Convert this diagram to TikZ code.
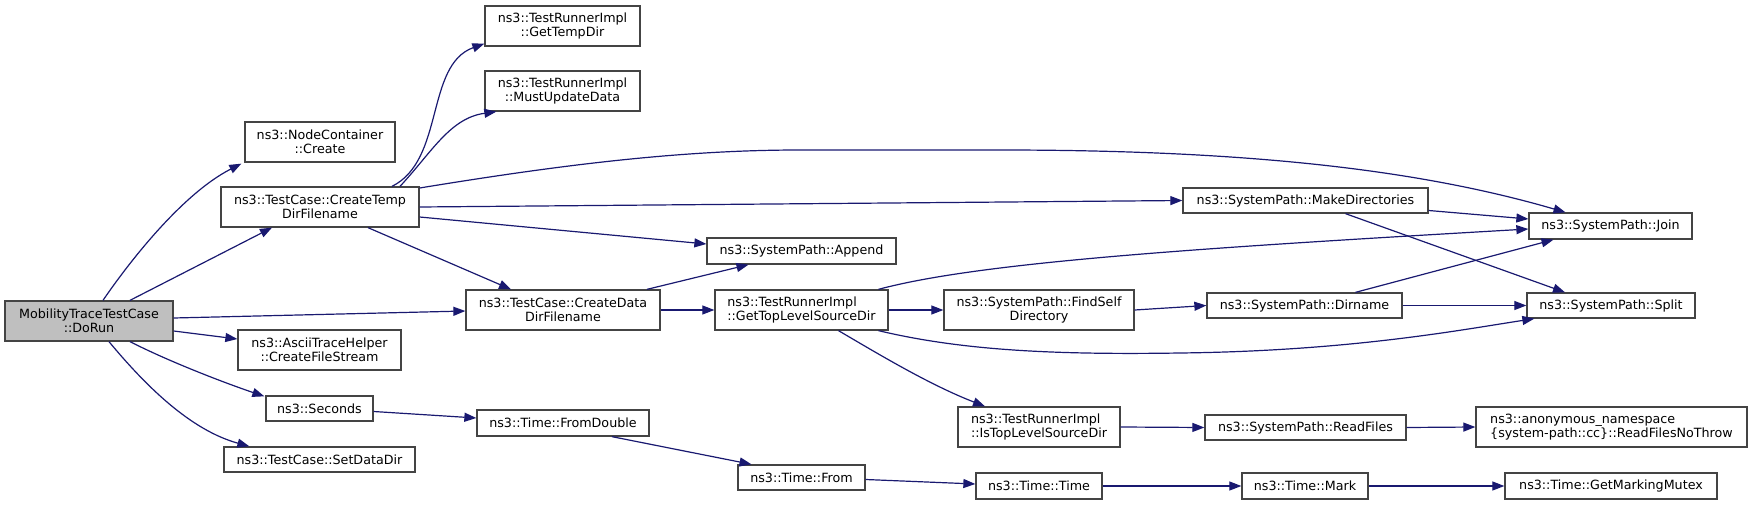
\documentclass[tikz,border=0pt]{standalone}
\usepackage{fontspec}
\setmainfont{DejaVu Sans}
\usetikzlibrary{arrows.meta,calc}
\definecolor{boxc}{HTML}{444444}
\definecolor{edgec}{HTML}{191970}
\definecolor{curfill}{HTML}{BFBFBF}
\begin{document}
\begin{tikzpicture}[x=1pt,y=-1pt,
  box/.style={draw=boxc, line width=1.3pt, fill=white, inner sep=0pt, align=center,
    font=\fontsize{12.7}{14.5}\selectfont},
  lbox/.style={box, align=left},
  e/.style={draw=edgec, line width=1.2pt, -{Triangle[length=12pt,width=9pt]}}]
\useasboundingbox (0,0) rectangle (1752,505);
% rank 0
\node[box, fill=curfill, minimum width=168, minimum height=40] (dorun) at (89,321) {MobilityTraceTestCase\\::DoRun};
% rank 1
\node[box, minimum width=150, minimum height=40] (nc) at (320,142) {ns3::NodeContainer\\::Create};
\node[box, minimum width=198, minimum height=40] (ctemp) at (320,207) {ns3::TestCase::CreateTemp\\DirFilename};
\node[box, minimum width=163, minimum height=40] (ascii) at (319.5,350) {ns3::AsciiTraceHelper\\::CreateFileStream};
\node[box, minimum width=107, minimum height=25] (sec) at (319.5,408.5) {ns3::Seconds};
\node[box, minimum width=191, minimum height=25] (setdd) at (319.5,459.5) {ns3::TestCase::SetDataDir};
% rank 2
\node[box, minimum width=155, minimum height=40] (gtd) at (562.5,26) {ns3::TestRunnerImpl\\::GetTempDir};
\node[box, minimum width=155, minimum height=40] (mud) at (562.5,91) {ns3::TestRunnerImpl\\::MustUpdateData};
\node[box, minimum width=194, minimum height=40] (cdata) at (563,310) {ns3::TestCase::CreateData\\DirFilename};
\node[box, minimum width=172, minimum height=26] (fdbl) at (563,423) {ns3::Time::FromDouble};
% rank 3
\node[box, minimum width=189, minimum height=26] (app) at (801.5,251) {ns3::SystemPath::Append};
\node[lbox, minimum width=173, minimum height=40] (gtop) at (801.5,310) {ns3::TestRunnerImpl\\::GetTopLevelSourceDir};
\node[box, minimum width=127, minimum height=25] (from) at (801.5,477.5) {ns3::Time::From};
% rank 4
\node[box, minimum width=190, minimum height=40] (fself) at (1039,310) {ns3::SystemPath::FindSelf\\Directory};
\node[lbox, minimum width=162, minimum height=40] (istop) at (1039,427) {ns3::TestRunnerImpl\\::IsTopLevelSourceDir};
\node[box, minimum width=126, minimum height=26] (time) at (1039,486) {ns3::Time::Time};
% rank 5
\node[box, minimum width=245, minimum height=25] (mkdir) at (1305.5,200.5) {ns3::SystemPath::MakeDirectories};
\node[box, minimum width=195, minimum height=25] (dirn) at (1304.5,305.5) {ns3::SystemPath::Dirname};
\node[box, minimum width=201, minimum height=25] (rf) at (1305.5,427.5) {ns3::SystemPath::ReadFiles};
\node[box, minimum width=126, minimum height=26] (mark) at (1305,486) {ns3::Time::Mark};
% rank 6
\node[box, minimum width=163, minimum height=26] (join) at (1610.5,226) {ns3::SystemPath::Join};
\node[box, minimum width=168, minimum height=25] (split) at (1611,305.5) {ns3::SystemPath::Split};
\node[lbox, minimum width=271, minimum height=40] (rfnt) at (1611.5,427) {ns3::anonymous\_namespace\\\{system-path::cc\}::ReadFilesNoThrow};
\node[box, minimum width=212, minimum height=26] (mutex) at (1611,486) {ns3::Time::GetMarkingMutex};
% edges
\draw[e] ($(dorun.north)+(14,0)$) .. controls (125,268) and (180,195) .. ($(nc.south west)+(-3,1)$);
\draw[e] ($(dorun.north)+(41,0)$) -- ($(ctemp.south)+(-48,0)$);
\draw[e] ($(dorun.east)+(0,-3)$) -- ($(cdata.west)+(0,1)$);
\draw[e] ($(dorun.east)+(0,10)$) -- ($(ascii.west)+(0,-11)$);
\draw[e] ($(dorun.south)+(41,0)$) .. controls (170,362) and (225,383) .. ($(sec.north west)+(-1,1)$);
\draw[e] ($(dorun.south)+(20,0)$) .. controls (145,385) and (190,430) .. ($(setdd.north west)+(26,0)$);
\draw[e] ($(ctemp.north)+(72,0)$) .. controls (445,160) and (425,65) .. ($(gtd.south west)+(0,-3)$);
\draw[e] ($(ctemp.north)+(80,0)$) .. controls (432,152) and (450,118) .. ($(mud.south west)+(12,0)$);
\coordinate (j1) at (800,150);
\coordinate (j2) at (1000,150);
\draw[e] ($(ctemp.east)+(0,-19)$) .. controls (560,165) and (680,150) .. (j1) -- (j2) .. controls (1250,150) and (1420,170) .. ($(join.north)+(-45,0)$);
\draw[e] (ctemp.east) -- (mkdir.west);
\draw[e] ($(ctemp.east)+(0,10)$) -- ($(app.west)+(0,-7)$);
\draw[e] ($(ctemp.south)+(48,0)$) -- ($(cdata.north)+(-52,0)$);
\draw[e] ($(cdata.north)+(84,0)$) -- ($(app.south)+(-53,0)$);
\draw[e] (cdata.east) -- (gtop.west);
\draw[e] ($(gtop.north)+(77,0)$) .. controls (980,262) and (1200,248) .. ($(join.west)+(0,3)$);
\draw[e] (gtop.east) -- (fself.west);
\coordinate (s1) at (1180,353);
\draw[e] ($(gtop.south)+(77,0)$) .. controls (960,350) and (1050,355) .. (s1) .. controls (1350,351) and (1460,330) .. ($(split.south west)+(8,0)$);
\draw[e] ($(gtop.south)+(37,0)$) .. controls (880,355) and (930,385) .. ($(istop.north)+(-54,0)$);
\draw[e] (fself.east) -- (dirn.west);
\draw[e] ($(dirn.north)+(51,0)$) -- ($(join.south)+(-57,0)$);
\draw[e] (dirn.east) -- (split.west);
\draw[e] ($(mkdir.east)+(0,10)$) -- ($(join.west)+(0,-7)$);
\draw[e] ($(mkdir.south)+(40,0)$) -- ($(split.north)+(-46,0)$);
\draw[e] (istop.east) -- (rf.west);
\draw[e] (rf.east) -- (rfnt.west);
\draw[e] ($(sec.east)+(0,3)$) -- ($(fdbl.west)+(0,-5)$);
\draw[e] ($(fdbl.south)+(49,0)$) -- ($(from.north)+(-50,0)$);
\draw[e] ($(from.east)+(0,2)$) -- ($(time.west)+(0,-2)$);
\draw[e] (time.east) -- (mark.west);
\draw[e] (mark.east) -- (mutex.west);
\end{tikzpicture}
\end{document}
